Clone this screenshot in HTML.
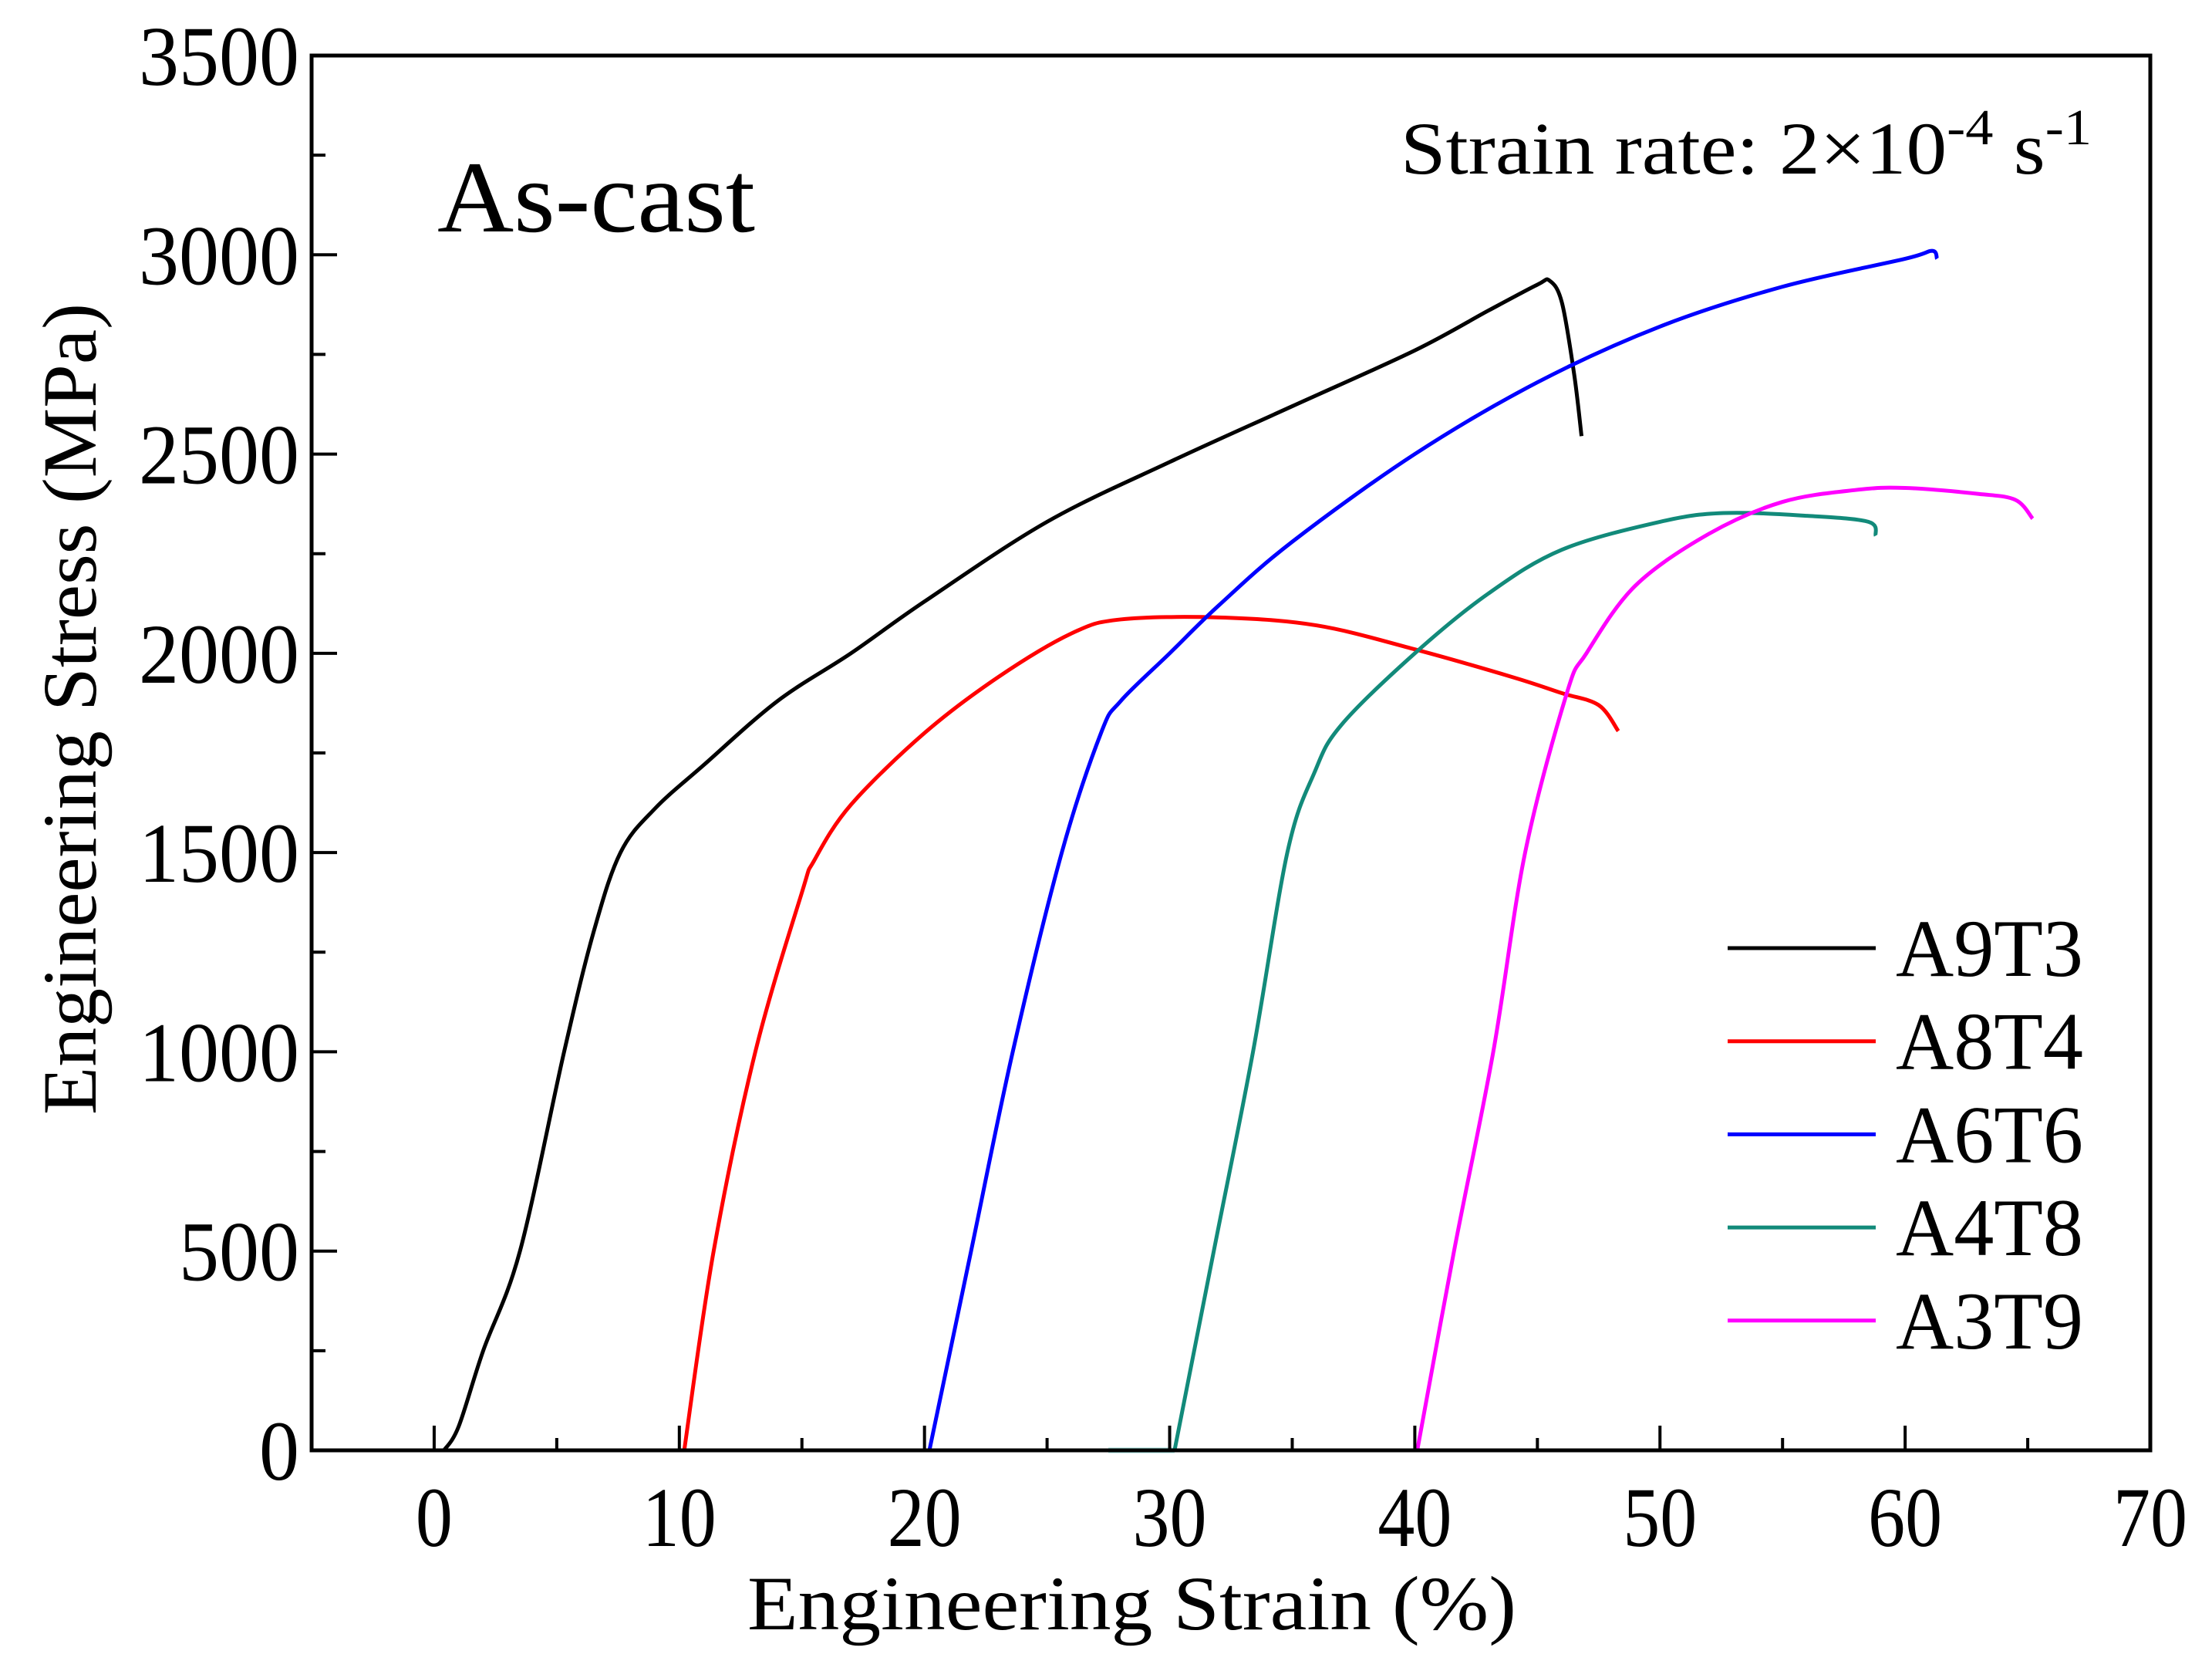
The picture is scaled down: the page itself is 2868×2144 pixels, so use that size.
<!DOCTYPE html>
<html><head><meta charset="utf-8"><style>
html,body{margin:0;padding:0;background:#fff;}
svg{display:block;font-family:"Liberation Serif",serif;}
</style></head><body>
<svg id="chart" width="2868" height="2144" viewBox="0 0 2868 2144" xmlns="http://www.w3.org/2000/svg">
<rect x="0" y="0" width="2868" height="2144" fill="#fff"/>
<g id="marks"></g>
<g id="axes"></g>
<text x="567" y="300" font-size="132" textLength="412" lengthAdjust="spacingAndGlyphs">As-cast</text>
<text x="1816" y="225" font-size="96" textLength="896" lengthAdjust="spacingAndGlyphs">Strain rate: 2×10<tspan dy="-38" font-size="66">-4</tspan><tspan dy="38"> s</tspan><tspan dy="-38" font-size="66">-1</tspan></text>
<text x="969" y="2112" font-size="100" textLength="997" lengthAdjust="spacingAndGlyphs">Engineering Strain (%)</text>
<text transform="translate(124,1445) rotate(-90)" font-size="100" textLength="1052" lengthAdjust="spacingAndGlyphs">Engineering Stress (MPa)</text>
<g id="legend"></g>
</svg>
<script>
const seriesNames = ["A9T3","A8T4","A6T6","A4T8","A3T9"];
const seriesColors = ["#000000","#ff0000","#0000ff","#128a7a","#ff00ff"];
const xTicks = [0,10,20,30,40,50,60,70];
const yTicks = [0,500,1000,1500,2000,2500,3000,3500];
const a9t3Strain = [0.4,1,2,3.5,5.3,6.5,7.6,9,11,14,17,20,25,30,35,40,43,45,45.5,46,46.5,46.8];
const a9t3Stress = [0,60,250,500,1000,1300,1500,1610,1720,1880,2000,2130,2330,2480,2620,2760,2860,2925,2935,2880,2700,2545];
const a8t4Strain = [10.2,11.4,13.1,15,15.5,17,20,23,26,28,32,36,40,44,46,47.5,48.3];
const a8t4Stress = [0,500,1000,1400,1480,1620,1800,1940,2050,2085,2090,2070,2010,1940,1900,1870,1805];
const a6t6Strain = [20.2,21.9,23.6,25.6,27.2,28,30,32,35,40,45,50,55,60,61.1,61.3];
const a6t6Stress = [0,500,1000,1500,1800,1880,2000,2120,2280,2500,2680,2820,2920,2990,3010,2990];
const a4t8Strain = [30.2,31.8,33.4,34.8,35.9,37,40,43,46,50,52.6,56,58.5,58.8];
const a4t8Stress = [0,500,1000,1500,1700,1820,2000,2150,2260,2330,2352,2345,2330,2295];
const a3t9Strain = [40.1,41.6,43.2,44.5,46.2,47,49,52,55,58,60,63,64.5,65.2];
const a3t9Stress = [0,500,1000,1500,1900,2000,2170,2300,2380,2410,2415,2400,2385,2338];
const allStrain=[a9t3Strain,a8t4Strain,a6t6Strain,a4t8Strain,a3t9Strain];
const allStress=[a9t3Stress,a8t4Stress,a6t6Stress,a4t8Stress,a3t9Stress];

const X0=404,X1=2788,Y0=1880,Y1=72;
function xs(v){return X0+(v+5)/75*(X1-X0);}
function ys(v){return Y0-v/3500*(Y0-Y1);}
const NS="http://www.w3.org/2000/svg";
function mk(t,attrs,parent){const e=document.createElementNS(NS,t);for(const k in attrs)e.setAttribute(k,attrs[k]);parent.appendChild(e);return e;}
const marks=document.getElementById('marks'),axes=document.getElementById('axes'),legend=document.getElementById('legend');

function smoothPath(p){
  let d="M"+p[0][0]+","+p[0][1];
  for(let i=0;i<p.length-1;i++){
    const p0=p[i-1]||p[i],p1=p[i],p2=p[i+1],p3=p[i+2]||p2;
    const c1=[p1[0]+(p2[0]-p0[0])/6,p1[1]+(p2[1]-p0[1])/6];
    const c2=[p2[0]-(p3[0]-p1[0])/6,p2[1]-(p3[1]-p1[1])/6];
    d+=" C"+c1[0]+","+c1[1]+" "+c2[0]+","+c2[1]+" "+p2[0]+","+p2[1];
  }
  return d;
}
const base=mk('line',{x1:xs(27.5),y1:ys(0),x2:xs(30.2),y2:ys(0),stroke:"#9fe0dc","stroke-width":7},marks);


for(let s=0;s<seriesNames.length;s++){
  const pts=allStrain[s].map((v,i)=>[xs(v),ys(allStress[s][i])]);
  const path=mk('path',{d:smoothPath(pts),fill:"none",stroke:seriesColors[s],"stroke-width":5,"stroke-linejoin":"round"},marks);
  
  
  const ly=1229+s*120.7;
  const ll=mk('line',{x1:2240,y1:ly,x2:2432,y2:ly,stroke:seriesColors[s],"stroke-width":5},legend);
  
  
  const lt=mk('text',{x:2458,y:ly+36,"font-size":106,textLength:243,lengthAdjust:"spacingAndGlyphs"},legend);
  lt.textContent=seriesNames[s];
  
  
}
const frame=mk('rect',{x:X0,y:Y1,width:X1-X0,height:Y0-Y1,fill:"none",stroke:"#000","stroke-width":5},axes);


for(let v=-5;v<=70;v+=5){
  const major=v%10===0;
  const t=mk('line',{x1:xs(v),y1:Y0,x2:xs(v),y2:Y0-(major?32:16),stroke:"#000","stroke-width":4},axes);
  
  
}
xTicks.forEach(v=>{
  const n=String(v).length;
  const t=mk('text',{x:xs(v)-n*24,y:Y0+124,"font-size":110,textLength:n*48,lengthAdjust:"spacingAndGlyphs"},axes);
  t.textContent=v;
  
  
});
for(let v=0;v<=3500;v+=250){
  const major=v%500===0;
  const t=mk('line',{x1:X0,y1:ys(v),x2:X0+(major?33:18),y2:ys(v),stroke:"#000","stroke-width":4},axes);
  
  
}
yTicks.forEach(v=>{
  const n=String(v).length;
  const t=mk('text',{x:X0-16-n*52,y:ys(v)+38,"font-size":110,textLength:n*52,lengthAdjust:"spacingAndGlyphs"},axes);
  t.textContent=v;
  
  
});
</script>
</body></html>
